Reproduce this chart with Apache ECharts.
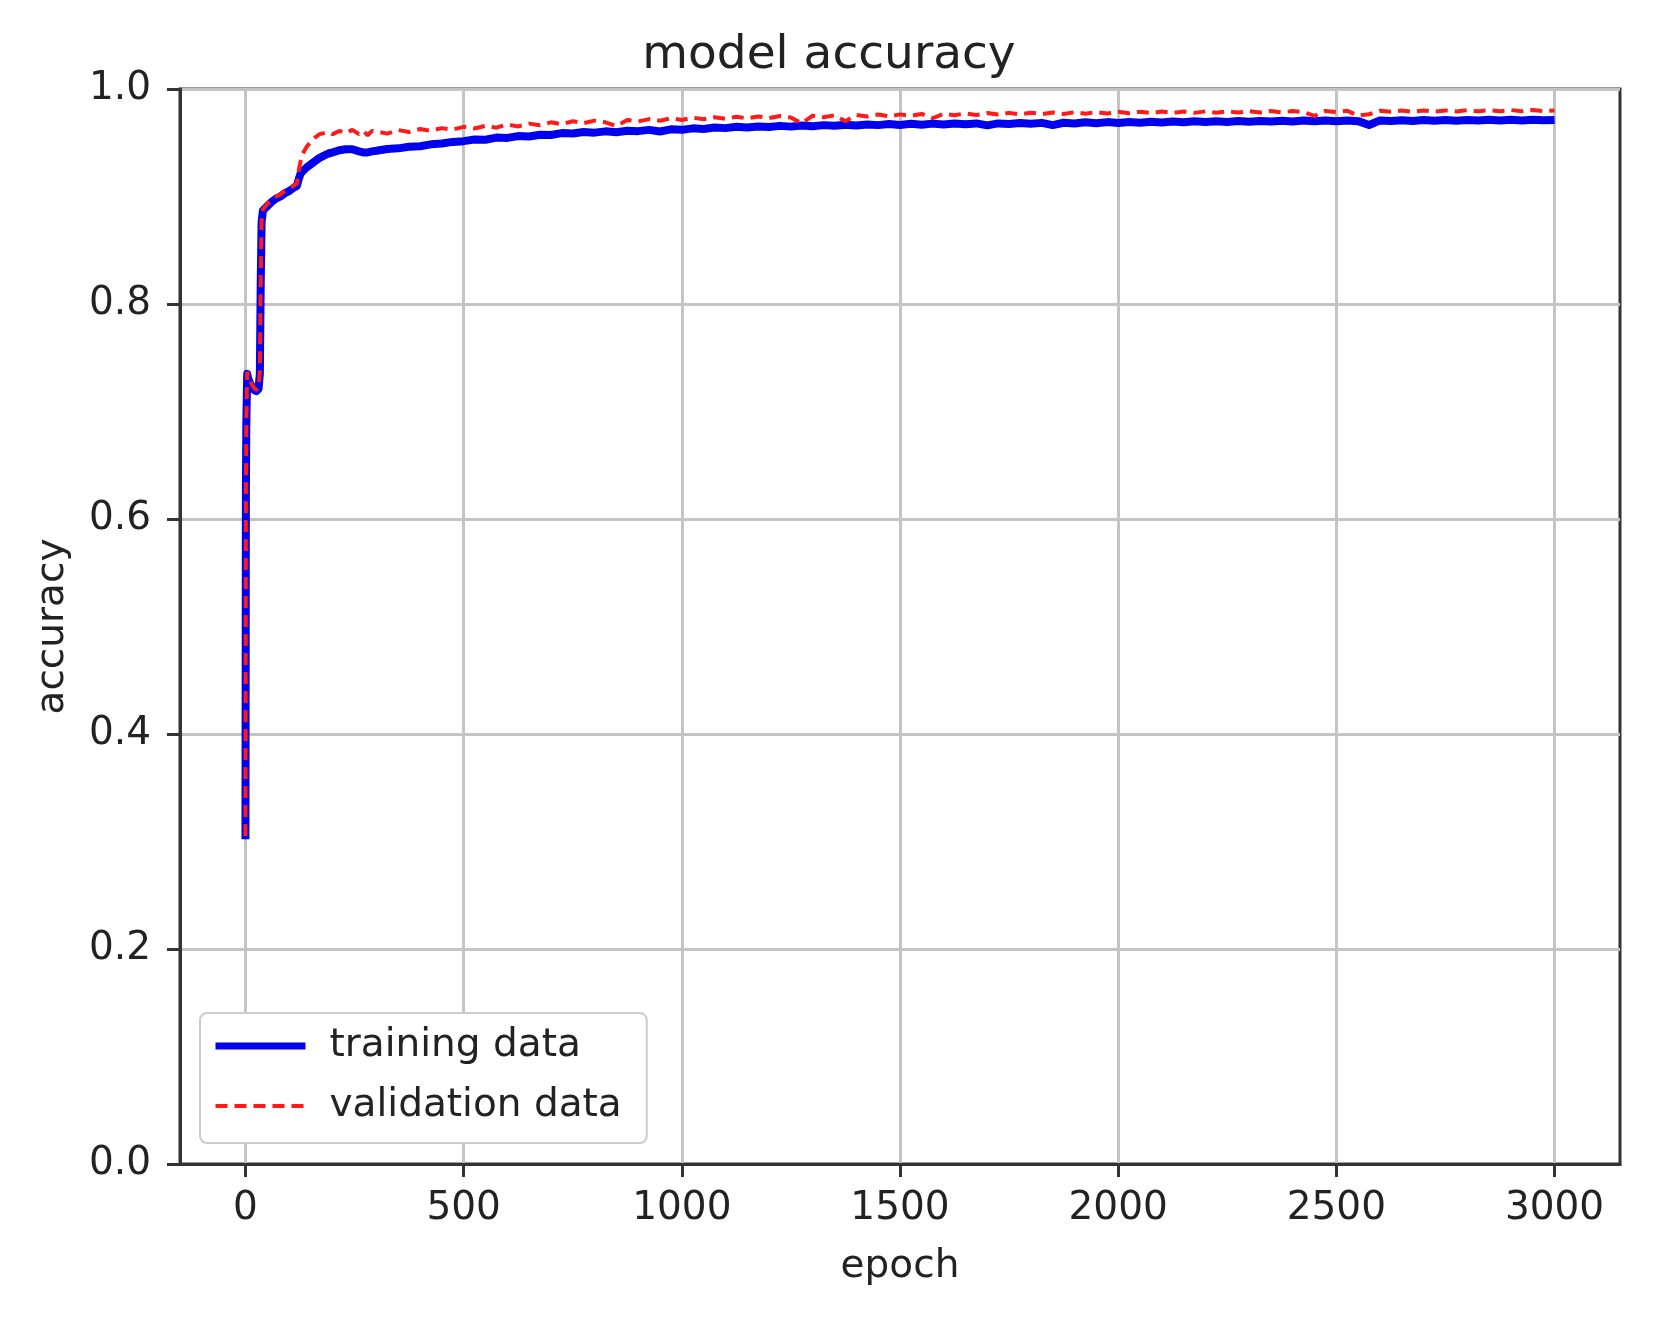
<!DOCTYPE html>
<html>
<head>
<meta charset="utf-8">
<script src="https://cdn.jsdelivr.net/npm/echarts@6/dist/echarts.min.js"></script>
<style>
html,body{margin:0;padding:0;background:#fff;}
#chart{width:1658px;height:1319px;}
</style>
</head>
<body>
<div id="chart"></div>
<script>
// ---- data ----
const epochs = [0,1,2,3,4,6,10,15,20,25,30,33,35,37,40,50,60,70,80,90,100,110,118,122,126,130,140,150,160,170,180,190,200,215,230,245,260,270,280,290,
300,325,350,375,400,425,450,475,500,525,550,575,600,625,650,675,700,725,750,775,800,825,850,875,900,925,950,975,
1000,1025,1050,1075,1100,1125,1150,1175,1200,1225,1250,1275,1300,1325,1350,1375,1400,1425,1450,1475,
1500,1525,1550,1575,1600,1625,1650,1675,1700,1725,1750,1775,1800,1825,1850,1875,1900,1925,1950,1975,
2000,2025,2050,2075,2100,2125,2150,2175,2200,2225,2250,2275,2300,2325,2350,2375,2400,2425,2450,2475,
2500,2525,2550,2575,2600,2625,2650,2675,2700,2725,2750,2775,2800,2825,2850,2875,2900,2925,2950,2975,3000];

const trainingAcc = [0.302,0.620,0.689,0.712,0.735,0.731,0.727,0.723,0.720,0.719,0.721,0.735,0.820,0.876,0.887,0.891,0.895,0.898,0.900,0.903,0.905,0.908,0.910,0.916,0.921,0.923,0.927,0.930,0.933,0.936,0.938,0.940,0.941,0.943,0.944,0.944,0.942,0.941,0.941,0.942,
0.9425,0.9442,0.9448,0.9462,0.9468,0.9485,0.9493,0.9508,0.9515,0.9530,0.9528,0.9548,0.9545,0.9562,0.9558,0.9575,0.9572,0.9590,0.9586,0.9600,0.9594,0.9606,0.9598,0.9612,0.9608,0.9620,0.9605,0.9625,
0.9620,0.9634,0.9628,0.9642,0.9636,0.9648,0.9642,0.9652,0.9646,0.9657,0.9650,0.9660,0.9654,0.9664,0.9658,0.9668,0.9660,0.9670,0.9664,0.9674,
0.9666,0.9676,0.9668,0.9678,0.9670,0.9680,0.9672,0.9680,0.9662,0.9680,0.9674,0.9684,0.9676,0.9685,0.9664,0.9686,0.9680,0.9690,0.9682,0.9692,
0.9684,0.9693,0.9686,0.9695,0.9688,0.9697,0.9690,0.9699,0.9692,0.9700,0.9694,0.9702,0.9695,0.9703,0.9697,0.9705,0.9698,0.9706,0.9699,0.9707,
0.9700,0.9708,0.9701,0.9665,0.9708,0.9702,0.9710,0.9703,0.9711,0.9704,0.9712,0.9705,0.9712,0.9706,0.9713,0.9707,0.9714,0.9708,0.9714,0.9709,0.9712];

const validationAcc = [0.305,0.625,0.690,0.716,0.737,0.734,0.729,0.725,0.722,0.720,0.722,0.737,0.822,0.878,0.888,0.893,0.897,0.900,0.902,0.905,0.907,0.910,0.912,0.924,0.932,0.939,0.946,0.951,0.955,0.958,0.959,0.960,0.958,0.961,0.959,0.962,0.958,0.961,0.957,0.961,
0.9605,0.9585,0.9618,0.9600,0.9628,0.9612,0.9636,0.9622,0.9648,0.9632,0.9658,0.9640,0.9670,0.9652,0.9678,0.9662,0.9690,0.9672,0.9700,0.9682,0.9706,0.9690,0.9655,0.9712,0.9698,0.9720,0.9705,0.9728,
0.9712,0.9734,0.9718,0.9738,0.9722,0.9742,0.9726,0.9745,0.9730,0.9748,0.9734,0.9680,0.9752,0.9738,0.9756,0.9700,0.9758,0.9744,0.9762,0.9746,
0.9764,0.9750,0.9768,0.9728,0.9770,0.9756,0.9774,0.9758,0.9776,0.9762,0.9778,0.9764,0.9780,0.9766,0.9782,0.9768,0.9784,0.9770,0.9786,0.9772,
0.9788,0.9774,0.9789,0.9776,0.9790,0.9777,0.9791,0.9778,0.9792,0.9780,0.9793,0.9781,0.9794,0.9782,0.9795,0.9783,0.9795,0.9784,0.9750,0.9796,
0.9786,0.9797,0.9752,0.9765,0.9798,0.9788,0.9799,0.9789,0.9800,0.9790,0.9801,0.9791,0.9802,0.9792,0.9803,0.9793,0.9804,0.9794,0.9805,0.9795,0.9800];

const xTicks = [0,500,1000,1500,2000,2500,3000];
const seriesNames = ['training data','validation data'];
const titleText = 'model accuracy';
const xName = 'epoch';
const yName = 'accuracy';

const FONT = 'DejaVu Sans';
const chart = echarts.init(document.getElementById('chart'), null, {renderer:'canvas'});

function pairs(xs, ys){ return xs.map((x,i)=>[x, ys[i]]); }

const axisCol = '#333';
const gridCol = '#c4c4c4';
const blue = '#0000ee';
const red = '#ff1a1a';

chart.setOption({
  animation: false,
  backgroundColor: '#fff',
  title: {
    text: titleText, left: 'center', top: 27,
    textStyle: {fontFamily: FONT, fontSize: 47, fontWeight: 'normal', color: '#222'}
  },
  grid: {
    left: 180, right: 38, top: 89, bottom: 155,
    show: true, borderColor: axisCol, borderWidth: 3, backgroundColor: 'transparent'
  },
  legend: {
    orient: 'vertical', left: 200, top: 1013,
    data: [
      {name: seriesNames[0], itemStyle: {opacity: 0}, lineStyle: {color: blue, width: 7, type: 'solid'}},
      {name: seriesNames[1], itemStyle: {opacity: 0}, lineStyle: {color: red, width: 4, type: [12, 7]}}
    ],
    itemWidth: 90, itemHeight: 14, itemGap: 12,
    padding: [9, 25, 13, 12],
    backgroundColor: '#fff', borderColor: '#cccccc', borderWidth: 2, borderRadius: 7,
    textStyle: {fontFamily: FONT, fontSize: 39, color: '#222', lineHeight: 48, padding: [0,0,0,19]}
  },
  xAxis: {
    type: 'value', min: -150, max: 3150,
    name: xName, nameLocation: 'middle', nameGap: 83,
    nameTextStyle: {fontFamily: FONT, fontSize: 39, color: '#222'},
    axisLine: {show: true, onZero: false, lineStyle: {color: axisCol, width: 3}},
    axisTick: {show: true, length: 13, inside: false, customValues: xTicks, lineStyle: {color: axisCol, width: 3}},
    axisLabel: {customValues: xTicks, margin: 25, fontFamily: FONT, fontSize: 39, color: '#222', formatter: v => String(v)},
    splitLine: {show: true, lineStyle: {color: gridCol, width: 3}}
  },
  yAxis: {
    type: 'value', min: 0, max: 1, interval: 0.2,
    name: yName, nameLocation: 'middle', nameGap: 108, nameRotate: 90,
    nameTextStyle: {fontFamily: FONT, fontSize: 39, color: '#222'},
    axisLine: {show: true, onZero: false, lineStyle: {color: axisCol, width: 3}},
    axisTick: {show: true, length: 13, lineStyle: {color: axisCol, width: 3}},
    axisLabel: {margin: 29, fontFamily: FONT, fontSize: 39, color: '#222', formatter: v => v.toFixed(1)},
    splitLine: {show: true, lineStyle: {color: gridCol, width: 3}}
  },
  series: [
    {
      name: seriesNames[0], type: 'line', data: pairs(epochs, trainingAcc),
      symbol: 'none', z: 3,
      lineStyle: {color: blue, width: 8, join: 'round'},
      itemStyle: {color: blue}
    },
    {
      name: seriesNames[1], type: 'line', data: pairs(epochs, validationAcc),
      symbol: 'none', z: 4,
      lineStyle: {color: red, width: 4, type: [12, 7]},
      itemStyle: {color: red}
    }
  ]
});
</script>
</body>
</html>
